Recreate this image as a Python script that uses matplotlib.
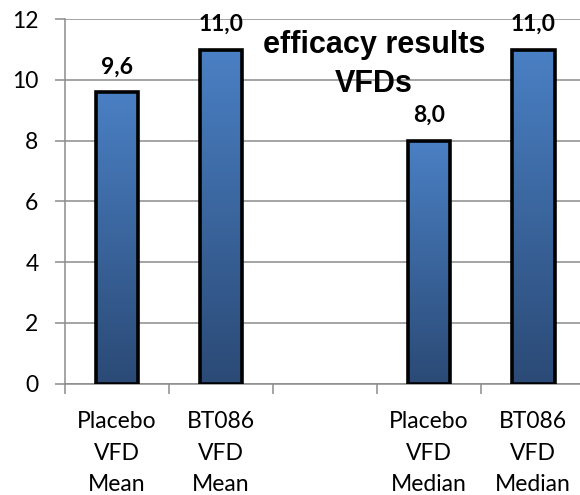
import numpy as np
import matplotlib.pyplot as plt
from matplotlib.colors import LinearSegmentedColormap

# bar chart data (middle slot is left empty on purpose)
categories = ["Placebo\nVFD\nMean", "BT086\nVFD\nMean", "",
              "Placebo\nVFD\nMedian", "BT086\nVFD\nMedian"]
values = [9.6, 11.0, None, 8.0, 11.0]
y_ticks = [0, 2, 4, 6, 8, 10, 12]
title_lines = ["efficacy results", "VFDs"]

plt.rcParams['font.family'] = ['Lato', 'DejaVu Sans']

fig = plt.figure(figsize=(5.8, 4.95), dpi=100)
ax = fig.add_axes([65 / 580, 1 - 383.5 / 495, 515 / 580, (383.5 - 19.3) / 495])

grey = '#8c8c8c'
ax.set_yticks(y_ticks)
ax.yaxis.grid(True, color=grey, lw=1.1)
ax.set_axisbelow(True)
for s in ['top', 'right']:
    ax.spines[s].set_visible(False)
for s in ['left', 'bottom']:
    ax.spines[s].set_color(grey)
    ax.spines[s].set_linewidth(1.1)

x = np.arange(len(categories))
ax.set_xticks(x)
ax.set_xticklabels(categories, fontsize=16.5, linespacing=1.62)
ax.set_xticks(np.arange(-0.5, len(categories), 1.0), minor=True)
ax.tick_params(axis='x', which='major', length=0, pad=20)
ax.tick_params(axis='x', which='minor', length=7, color=grey, width=1.1)
ax.tick_params(axis='y', length=7, color=grey, width=1.1, labelsize=16.5, pad=12)

# vertical blue gradient, lighter at the top
cmap = LinearSegmentedColormap.from_list('bar', ['#2b4a76', '#4a80c4'])
grad = np.linspace(0, 1, 256).reshape(-1, 1)

width = 0.41
for xi, v in zip(x, values):
    if v is None:
        continue
    bar = ax.bar(xi, v, width=width, facecolor='none', edgecolor='black',
                 linewidth=2.6, zorder=3)[0]
    img = ax.imshow(grad, cmap=cmap, origin='lower', aspect='auto',
                    extent=(xi - width / 2, xi + width / 2, 0, v), zorder=2)
    img.set_clip_path(bar)
    ax.annotate(f"{v:.1f}".replace('.', ','), (xi, v), xytext=(0, 13.5),
                textcoords='offset points', ha='center', va='baseline',
                fontsize=16.5, fontweight='bold')

ax.set_xlim(-0.5, 4.45)
ax.set_ylim(0, 12)

# two-line heading inside the plot area
for line, yb in zip(title_lines, [10.89, 9.6]):
    ax.text(2.47, yb, line, ha='center', va='baseline', fontsize=22,
            fontweight='bold', family=['Liberation Sans', 'DejaVu Sans'],
            zorder=4)

fig.savefig('out.png', dpi=100)
